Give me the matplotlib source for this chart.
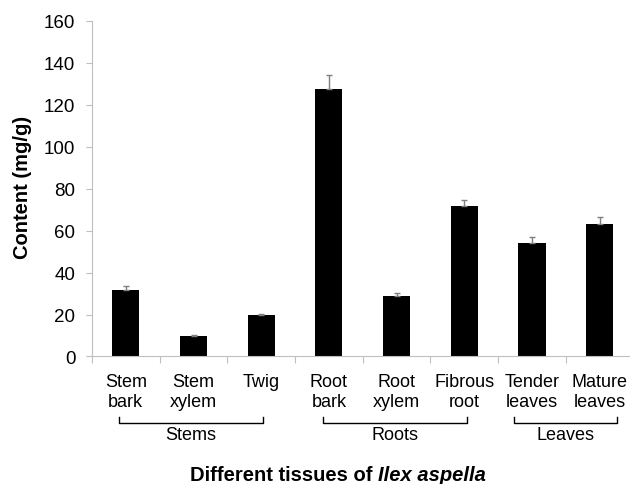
import numpy as np
import matplotlib
matplotlib.use("Agg")
import matplotlib.pyplot as plt
import matplotlib.transforms as mtransforms

plt.rcParams['font.family'] = ['Liberation Sans', 'DejaVu Sans']

# tissue contents (mg/g) with standard deviation
tissues = ["Stem\nbark", "Stem\nxylem", "Twig", "Root\nbark", "Root\nxylem",
           "Fibrous\nroot", "Tender\nleaves", "Mature\nleaves"]
content = [31.9, 9.7, 19.7, 127.6, 28.9, 71.6, 53.9, 63.3]
sd = [1.6, 0.4, 0.8, 6.4, 1.2, 3.2, 2.9, 3.0]

# organ groups: label, first and last tissue index
groups = ["Stems", "Roots", "Leaves"]
group_span = [(-0.1, 2.02), (2.91, 5.04), (5.73, 7.26)]

y_ticks = np.arange(0, 161, 20)

fig = plt.figure(figsize=(6.3, 4.85), dpi=100)
ax = fig.add_axes([0.146, 0.2629, 0.8596, 0.6918])

x = np.arange(len(tissues))
ax.bar(x, content, width=0.4, color="black", zorder=2)
ax.errorbar(x, content, yerr=[np.zeros(len(sd)), sd], fmt="none",
            ecolor="#7f7f7f", elinewidth=1.0, capsize=2, capthick=1.0, zorder=3)

ax.set_xlim(-0.5, len(tissues) - 0.5)
ax.set_ylim(0, 160)
ax.set_yticks(y_ticks)
ax.tick_params(axis="y", labelsize=13.5, colors="#bfbfbf", labelcolor="black",
               length=4, width=0.8, pad=8)

ax.set_xticks(x)
ax.set_xticklabels(tissues, fontsize=13, linespacing=1.2)
ax.set_xticks(np.arange(-0.5, len(tissues)), minor=True)
ax.tick_params(axis="x", which="major", length=0, pad=12)
ax.tick_params(axis="x", which="minor", length=5, width=0.8, color="#bfbfbf")

for side in ["top", "right"]:
    ax.spines[side].set_visible(False)
for side in ["left", "bottom"]:
    ax.spines[side].set_color("#bfbfbf")
    ax.spines[side].set_linewidth(0.8)

# brackets grouping tissues by organ
trans = mtransforms.blended_transform_factory(ax.transData, fig.transFigure)
y_top, y_bot = 1 - 418 / 485, 1 - 424 / 485
for name, (x0, x1) in zip(groups, group_span):
    ax.plot([x0, x0, x1, x1], [y_top, y_bot, y_bot, y_top], color="black",
            lw=1.0, transform=trans, clip_on=False)
    ax.text((x0 + x1) / 2, 1 - 436 / 485, name, transform=trans,
            ha="center", va="center", fontsize=13)

fig.text(23 / 630, 1 - 187 / 485, "Content (mg/g)", rotation=90,
         ha="center", va="center", fontsize=14.5, fontweight="bold")

t1 = fig.text(190 / 630, 1 - 481 / 485, "Different tissues of",
              ha="left", va="baseline", fontsize=14.5, fontweight="bold")
t2 = fig.text(0, 1 - 481 / 485, "Ilex aspella", fontsize=14.5, fontweight="bold",
              fontstyle="italic", ha="left", va="baseline")

# place the italic species name right after the plain part of the title
fig.canvas.draw()
bb = t1.get_window_extent()
t2.set_x((bb.x1 + 5) / 630)

fig.savefig("out.png", dpi=100)
